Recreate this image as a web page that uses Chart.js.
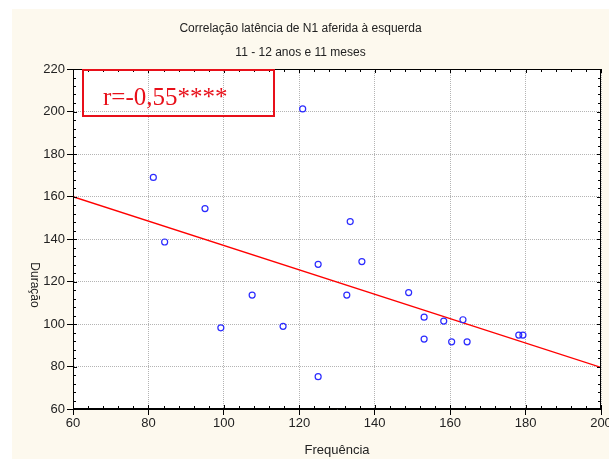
<!DOCTYPE html>
<html>
<head>
<meta charset="utf-8">
<script src="https://cdn.jsdelivr.net/npm/chart.js@4/dist/chart.umd.min.js"></script>
<style>
  html, body { margin: 0; padding: 0; background: #ffffff; }
  #wrap { width: 609px; height: 459px; }
</style>
</head>
<body>
<div id="wrap"><canvas id="c" width="609" height="459"></canvas></div>
<script>
// Frequência (x) and Duração (y) for each subject
const frequencia = [81.3, 84.3, 95.0, 99.2, 107.5, 115.7, 120.9, 125.0, 125.0, 132.6, 133.5,
                    136.6, 149.0, 153.1, 153.1, 158.3, 160.4, 163.4, 164.5, 178.2, 179.3];
const duracao    = [169.0, 138.6, 154.3, 98.2, 113.6, 98.9, 201.2, 128.1, 75.2, 113.6, 148.2,
                    129.4, 114.8, 103.2, 92.9, 101.4, 91.6, 102.0, 91.6, 94.8, 94.8];

// Fitted regression line, evaluated at the axis ends
const fitX = [60, 200];
const fitY = [159.9, 79.6];

const xTicks = [60, 80, 100, 120, 140, 160, 180, 200];
const yTicks = [60, 80, 100, 120, 140, 160, 180, 200, 220];

const titleLines = ['Correlação latência de N1 aferida à esquerda', '11 - 12 anos e 11 meses'];
const xLabel = 'Frequência';
const yLabel = 'Duração';
const rLabel = 'r=-0,55****';

const FONT = '"Liberation Sans", Arial, sans-serif';
const CREAM = '#fdf9ee';

const points = frequencia.map((x, i) => ({ x: x, y: duracao[i] }));
const fitLine = fitX.map((x, i) => ({ x: x, y: fitY[i] }));

// Background, framed plot, inward minor ticks, rotated y label and r-box
const decor = {
  id: 'decor',
  beforeDraw(chart) {
    const ctx = chart.ctx, a = chart.chartArea;
    ctx.save();
    ctx.fillStyle = '#ffffff';
    ctx.fillRect(0, 0, chart.width, chart.height);
    ctx.fillStyle = CREAM;
    ctx.fillRect(12, 9, chart.width - 12, chart.height - 9);
    ctx.fillStyle = '#ffffff';
    ctx.fillRect(a.left, a.top, a.right - a.left, a.bottom - a.top);
    ctx.restore();
  },
  afterDraw(chart) {
    const ctx = chart.ctx, a = chart.chartArea;
    const xs = chart.scales.x, ys = chart.scales.y;
    ctx.save();
    // frame
    ctx.strokeStyle = '#000';
    ctx.lineWidth = 1;
    ctx.strokeRect(Math.round(a.left) + 0.5, Math.round(a.top) + 0.5,
                   Math.round(a.right - a.left) - 1, Math.round(a.bottom - a.top) - 1);
    // inward ticks on all four sides
    ctx.beginPath();
    for (let v = xs.min; v <= xs.max + 1e-6; v += 4) {
      const px = Math.round(xs.getPixelForValue(v)) + 0.5;
      const major = Math.abs(v % 20) < 1e-6;
      const len = major ? 4 : 3;
      ctx.moveTo(px, a.bottom); ctx.lineTo(px, a.bottom - len);
      ctx.moveTo(px, a.top); ctx.lineTo(px, a.top + len);
    }
    for (let v = ys.min; v <= ys.max + 1e-6; v += 4) {
      const py = Math.round(ys.getPixelForValue(v)) + 0.5;
      const major = Math.abs(v % 20) < 1e-6;
      const len = major ? 4 : 3;
      ctx.moveTo(a.left, py); ctx.lineTo(a.left + len, py);
      ctx.moveTo(a.right, py); ctx.lineTo(a.right - len, py);
    }
    ctx.stroke();

    // y axis label, reading top to bottom
    ctx.save();
    ctx.translate(34, 285);
    ctx.rotate(Math.PI / 2);
    ctx.fillStyle = '#222';
    ctx.font = '12px ' + FONT;
    ctx.textAlign = 'center';
    ctx.textBaseline = 'middle';
    ctx.fillText(yLabel, 0, 0);
    ctx.restore();

    // correlation box
    const bx = a.left + 9, by = a.top;
    ctx.strokeStyle = '#e8101a';
    ctx.lineWidth = 2;
    ctx.strokeRect(bx + 1, by + 1, 191, 46);
    ctx.fillStyle = '#e8101a';
    ctx.font = '25px "Liberation Serif", "Times New Roman", serif';
    ctx.textAlign = 'left';
    ctx.textBaseline = 'alphabetic';
    ctx.fillText(rLabel, bx + 21, by + 36);
    ctx.restore();
  }
};

new Chart(document.getElementById('c'), {
  type: 'scatter',
  data: {
    datasets: [
      {
        type: 'line',
        data: fitLine,
        borderColor: '#ff0000',
        borderWidth: 1.3,
        pointRadius: 0,
        fill: false,
        order: 2
      },
      {
        type: 'scatter',
        data: points,
        borderColor: '#2b2bff',
        backgroundColor: 'rgba(0,0,0,0)',
        borderWidth: 1.2,
        pointRadius: 3,
        pointStyle: 'circle',
        order: 1
      }
    ]
  },
  options: {
    responsive: false,
    animation: false,
    devicePixelRatio: 1,
    layout: { padding: { left: 0, right: 8, top: 0, bottom: 0 } },
    plugins: {
      legend: { display: false },
      tooltip: { enabled: false },
      title: {
        display: true,
        text: titleLines,
        color: '#222',
        font: { family: FONT, size: 12, weight: 'normal', lineHeight: 2 },
        padding: { top: 17, bottom: 4 }
      }
    },
    scales: {
      x: {
        type: 'linear',
        min: 60, max: 200,
        afterBuildTicks(scale) { scale.ticks = xTicks.map(v => ({ value: v })); },
        afterFit(scale) { scale.height = 50; scale.paddingRight = 0; },
        ticks: { color: '#222', font: { family: FONT, size: 13 }, padding: 1, maxRotation: 0 },
        grid: {
          color: '#b4b4b4', lineWidth: 1, tickLength: 6, tickColor: '#000',
          tickBorderDash: [], drawTicks: true
        },
        border: { display: true, color: '#000', width: 1, dash: [1, 1] },
        title: {
          display: true, text: xLabel, color: '#222',
          font: { family: FONT, size: 13 }, padding: { top: 0, bottom: 1 }
        }
      },
      y: {
        type: 'linear',
        min: 60, max: 220,
        afterBuildTicks(scale) { scale.ticks = yTicks.map(v => ({ value: v })); },
        afterFit(scale) { scale.width = 73; },
        ticks: { color: '#222', font: { family: FONT, size: 13 }, padding: 2 },
        grid: {
          color: '#b4b4b4', lineWidth: 1, tickLength: 6, tickColor: '#000',
          tickBorderDash: [], drawTicks: true
        },
        border: { display: true, color: '#000', width: 1, dash: [1, 1] }
      }
    }
  },
  plugins: [decor]
});
</script>
</body>
</html>
